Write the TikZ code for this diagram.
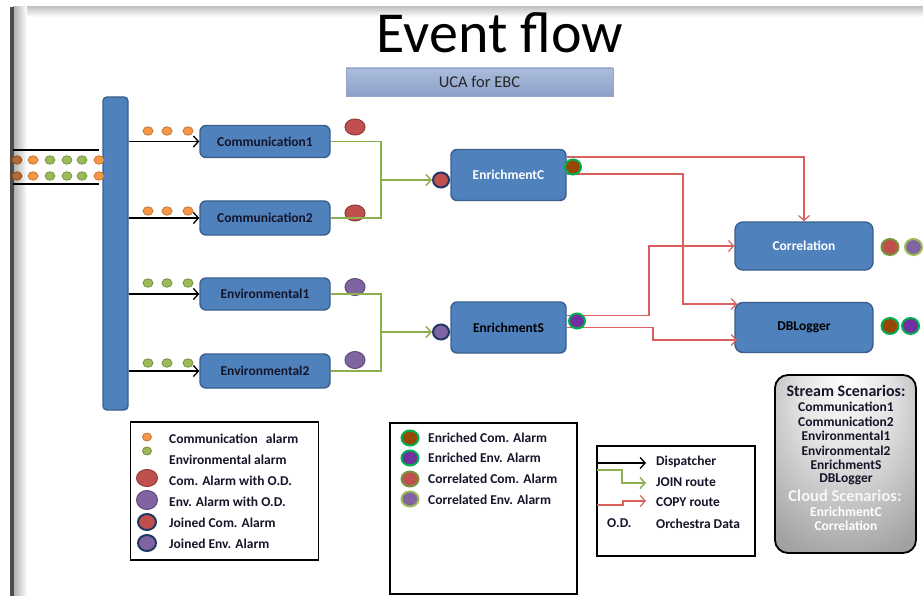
\documentclass[tikz,border=0pt]{standalone}
\usepackage{fontspec}
\setmainfont{Carlito}
\usetikzlibrary{shapes.geometric,arrows.meta,calc}
\definecolor{boxblue}{HTML}{4F81BD}
\definecolor{boxedge}{HTML}{3A5F8C}
\definecolor{orng}{HTML}{F79646}
\definecolor{dkor}{HTML}{B8672E}
\definecolor{grn}{HTML}{9BBB59}
\definecolor{redal}{HTML}{C0504D}
\definecolor{purp}{HTML}{8064A2}
\definecolor{navy}{HTML}{1F3864}
\definecolor{brn}{HTML}{984806}
\definecolor{vio}{HTML}{7030A0}
\definecolor{bgreen}{HTML}{00B050}
\definecolor{olive}{HTML}{77933C}
\definecolor{joinc}{HTML}{8EB04C}
\definecolor{copyc}{HTML}{D9605C}
\definecolor{txtdark}{HTML}{15152A}
\pgfdeclareradialshading{scenshade}{\pgfpoint{0bp}{25bp}}{color(0bp)=(white); color(16bp)=(gray!22); color(38bp)=(gray!72); color(65bp)=(gray!95!black)}
\tikzset{
  procbox/.style={draw=boxedge, fill=boxblue, line width=1.4pt, rounded corners=6pt, inner sep=0pt,
    font=\bfseries\fontsize{13.5}{15}\selectfont, text=txtdark},
  dot/.style={ellipse, minimum width=10pt, minimum height=8.5pt, inner sep=0pt, line width=0.8pt},
  odot/.style={dot, fill=orng, draw=orng!80!black},
  gdot/.style={dot, fill=grn, draw=grn!75!black},
  big/.style={ellipse, minimum width=20pt, minimum height=16pt, inner sep=0pt, line width=1pt},
  redod/.style={big, fill=redal, draw=redal!75!black},
  purod/.style={big, fill=purp, draw=purp!75!black},
  mid/.style={ellipse, minimum width=16pt, minimum height=15pt, inner sep=0pt, line width=2pt},
  joinedc/.style={mid, fill=redal, draw=navy},
  joinede/.style={mid, fill=purp, draw=navy},
  enrc/.style={mid, fill=brn, draw=bgreen},
  enre/.style={mid, fill=vio, draw=bgreen},
  corrc/.style={mid, fill=redal, draw=olive},
  corre/.style={mid, fill=purp, draw=grn},
  disp/.style={draw=black, line width=1.3pt, -{Straight Barb[length=5pt,width=11pt]}},
  joinl/.style={draw=joinc, line width=1.5pt},
  joina/.style={joinl, -{Straight Barb[length=5pt,width=11pt]}},
  copyl/.style={draw=copyc, line width=1.2pt},
  copya/.style={copyl, -{Straight Barb[length=5pt,width=11pt]}},
  legbox/.style={draw=black, line width=1.5pt, inner sep=0pt},
  lt/.style={anchor=west, inner sep=0pt, font=\bfseries\fontsize{13.5}{15}\selectfont, text=txtdark},
  st/.style={inner sep=0pt, font=\bfseries\fontsize{13.5}{15}\selectfont, text=txtdark},
}
\begin{document}
\begin{tikzpicture}[x=1pt,y=-1pt]
\useasboundingbox (0,0) rectangle (923,596);
\fill[white] (0,0) rectangle (923,596);
% page frame
\shade[top color=gray!45, bottom color=white] (13,7) rectangle (923,17);
\shade[left color=gray!65, right color=white] (13,7) rectangle (27,596);
\fill[gray!60!black] (10,7) rectangle (13.5,596);
% title
\node[font=\fontsize{58}{62}\selectfont, text=black] (title) at (500,33) {Event flow};
\shade[top color={rgb,255:red,172;green,189;blue,220}, bottom color={rgb,255:red,140;green,160;blue,200}, draw={rgb,255:red,150;green,165;blue,200}, line width=0.4pt] (346,68) rectangle (613,96);
\node[font=\fontsize{16.5}{18}\selectfont, text=black!85] (uca) at (479.5,82) {UCA for EBC};
% dispatcher bar
\node[draw=boxedge, fill=boxblue, line width=1.4pt, rounded corners=4pt, minimum width=25pt, minimum height=313pt, inner sep=0pt] (disp) at (115.5,253.5) {};
% input stream
\coordinate (inA) at (13,150); \coordinate (inAe) at (99,150);
\coordinate (inB) at (13,184); \coordinate (inBe) at (99,184);
\draw[line width=1.2pt] (inA) -- (inAe);
\draw[line width=1.2pt] (inB) -- (inBe);
\foreach \x/\c in {17/dkor,33/orng,50/grn,67/grn,82/grn,99/orng}{
  \node[dot, fill=\c, draw=\c!80!black] (ia\x) at (\x,160) {};
  \node[dot, fill=\c, draw=\c!80!black] (ib\x) at (\x,176) {};
}
% process boxes
\node[procbox, minimum width=130pt, minimum height=32pt] (c1) at (265,141.5) {Communication1};
\node[procbox, minimum width=130pt, minimum height=34pt] (c2) at (265,218) {Communication2};
\node[procbox, minimum width=130pt, minimum height=32pt] (e1) at (265,294) {Environmental1};
\node[procbox, minimum width=130pt, minimum height=34pt] (e2) at (265,371) {Environmental2};
% dispatcher arrows
\draw[disp] (disp.east |- c1.west) -- (c1.west);
\draw[disp] (disp.east |- c2.west) -- (c2.west);
\draw[disp] (disp.east |- e1.west) -- (e1.west);
\draw[disp] (disp.east |- e2.west) -- (e2.west);
% small dots above arrows
\foreach \x in {148,167,188}{
  \node[odot] (a1\x) at (\x,131) {};
  \node[odot] (a2\x) at (\x,211) {};
  \node[gdot] (a3\x) at (\x,283) {};
  \node[gdot] (a4\x) at (\x,363) {};
}
% alarms with O.D.
\node[redod] (od1) at (355,127) {};
\node[redod] (od2) at (355,213) {};
\node[purod, minimum height=17pt] (od3) at (355,287) {};
\node[purod, minimum height=17pt] (od4) at (355,360) {};
% enrichment boxes
\node[procbox, minimum width=115pt, minimum height=51pt, text=white] (enC) at (508.5,175) {EnrichmentC};
\node[procbox, minimum width=115pt, minimum height=51pt, text=black] (enS) at (508.5,327.5) {EnrichmentS};
% joined alarms
\node[joinedc] (jc) at (441,180) {};
\node[joinede] (js) at (441,332) {};
% join routes
\coordinate (jcC) at (381,180);
\coordinate (jcS) at (381,332);
\draw[joinl] (c1.east) -| (jcC) |- (c2.east);
\draw[joina] (jcC) -- (jc.west);
\draw[joinl] (e1.east) -| (jcS) |- (e2.east);
\draw[joina] (jcS) -- (js.west);
% correlation and dblogger
\node[procbox, minimum width=138pt, minimum height=48pt, rounded corners=8pt, text=white] (corr) at (804,246) {Correlation};
\node[procbox, minimum width=138pt, minimum height=50pt, rounded corners=8pt, text=black] (dbl) at (804,327.5) {DBLogger};
% copy routes
\coordinate (dbIn) at (737,304);
\coordinate (dbIn2) at (737,340);
\coordinate (bC) at (683,174);
\coordinate (bS1) at (649,315.5);
\coordinate (bS2) at (653,327.5);
\draw[copya] ([yshift=18pt]enC.east) -| (corr.north);
\draw[copya] ([yshift=1pt]enC.east) -- (bC) |- (dbIn);
\draw[copya] ([yshift=12pt]enS.east) -- (bS1) |- (corr.west);
\draw[copya] (enS.east) -- (bS2) |- (dbIn2);
% enriched outputs
\node[enrc] (oC) at (573,167) {};
\node[enre] (oS) at (577,321) {};
\node[corrc, minimum width=17pt, minimum height=16pt] (k1) at (890,247) {};
\node[corre, minimum width=17pt, minimum height=16pt] (k2) at (913.5,247) {};
\node[enrc, minimum width=17pt, minimum height=16pt] (k3) at (890,326) {};
\node[enre, minimum width=17pt, minimum height=16pt] (k4) at (910.5,326) {};
% legend 1
\node[legbox, minimum width=188pt, minimum height=138pt] (leg1) at (224.5,491) {};
\node[odot, minimum width=9pt, minimum height=8pt] (l1a) at (147,437) {};
\node[gdot, minimum width=9pt, minimum height=8pt] (l1b) at (147,451) {};
\node[redod, minimum width=21pt, minimum height=17pt] (l1c) at (147,478) {};
\node[purod, minimum width=21pt, minimum height=19pt] (l1d) at (147,500) {};
\node[joinedc, minimum width=18pt, minimum height=16pt] (l1e) at (147,522) {};
\node[joinede, minimum width=18pt, minimum height=16pt] (l1f) at (147,543) {};
\node[lt] (t1a) at (169,439) {Communication\hspace{0.6em}alarm};
\node[lt] (t1b) at (169,459.5) {Environmental alarm};
\node[lt] (t1c) at (169,480.5) {Com. Alarm with O.D.};
\node[lt] (t1d) at (169,501.5) {Env. Alarm with O.D.};
\node[lt] (t1e) at (169,522.5) {Joined Com. Alarm};
\node[lt] (t1f) at (169,543.5) {Joined Env. Alarm};
% legend 2
\node[legbox, minimum width=187pt, minimum height=171pt] (leg2) at (483.5,508.5) {};
\node[enrc, minimum width=17pt] (l2a) at (410,438) {};
\node[enre, minimum width=17pt] (l2b) at (410,458) {};
\node[corrc, minimum width=17pt] (l2c) at (410,479) {};
\node[corre, minimum width=17pt] (l2d) at (410,499) {};
\node[lt] (t2a) at (428,437.5) {Enriched Com. Alarm};
\node[lt] (t2b) at (428,458) {Enriched Env. Alarm};
\node[lt] (t2c) at (428,479) {Correlated Com. Alarm};
\node[lt] (t2d) at (428,499.5) {Correlated Env. Alarm};
% legend 3
\node[legbox, minimum width=158pt, minimum height=110pt] (leg3) at (676,501) {};
\coordinate (r1s) at (597,463); \coordinate (r1e) at (646,463);
\coordinate (r2s) at (597,470); \coordinate (r2m) at (622,470); \coordinate (r2e) at (646,483);
\coordinate (r3s) at (597,505); \coordinate (r3m) at (623,505); \coordinate (r3e) at (646,501);
\draw[disp] (r1s) -- (r1e);
\draw[joina] (r2s) -- (r2m) |- (r2e);
\draw[copya] (r3s) -- (r3m) |- (r3e);
\node[lt] (t3a) at (656,461.5) {Dispatcher};
\node[lt] (t3b) at (656,482) {JOIN route};
\node[lt] (t3c) at (656,502.5) {COPY route};
\node[lt] (t3d) at (607,523.5) {O.D.};
\node[lt] (t3e) at (656,523.5) {Orchestra Data};
% scenarios box
\node[draw=black, line width=1.8pt, rounded corners=13pt, shading=scenshade, minimum width=141pt, minimum height=178pt, inner sep=0pt] (scen) at (845.5,464) {};
\node[st, font=\bfseries\fontsize{16}{18}\selectfont] (s0) at (846,391) {Stream Scenarios:};
\node[st] (s1) at (846,407) {Communication1};
\node[st] (s2) at (846,421.5) {Communication2};
\node[st] (s3) at (846,436) {Environmental1};
\node[st] (s4) at (846,450.5) {Environmental2};
\node[st] (s5) at (846,465) {EnrichmentS};
\node[st] (s6) at (846,479) {DBLogger};
\node[st, font=\bfseries\fontsize{16.5}{18}\selectfont, text=white!94!gray] (s7) at (845,495.5) {Cloud Scenarios:};
\node[st, text=white] (s8) at (846,512) {EnrichmentC};
\node[st, text=white] (s9) at (846,526) {Correlation};
\end{tikzpicture}
\end{document}
